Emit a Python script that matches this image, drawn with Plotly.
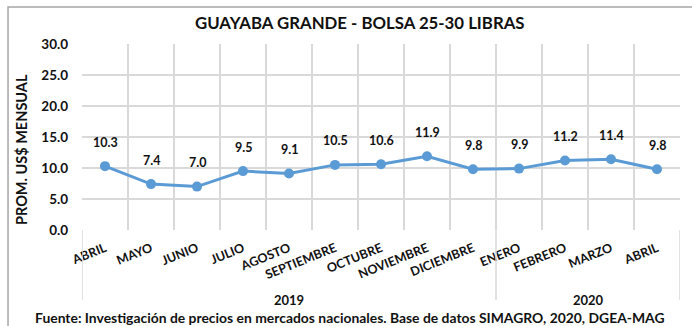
import plotly.graph_objects as go

# Monthly average price, US$ per 25-30 lb bag
months = ["ABRIL", "MAYO", "JUNIO", "JULIO", "AGOSTO", "SEPTIEMBRE", "OCTUBRE",
          "NOVIEMBRE", "DICIEMBRE", "ENERO", "FEBRERO", "MARZO", "ABRIL"]
years = ["2019"] * 9 + ["2020"] * 4
prices = [10.3, 7.4, 7.0, 9.5, 9.1, 10.5, 10.6, 11.9, 9.8, 9.9, 11.2, 11.4, 9.8]
y_ticks = [0, 5, 10, 15, 20, 25, 30]

BLUE = "#5B9BD5"
GRID = "#D9D9D9"
FONT = "Lato"

idx = list(range(len(months)))

fig = go.Figure()
fig.add_trace(go.Scatter(
    x=idx, y=prices, mode="lines+markers",
    line=dict(color=BLUE, width=3),
    marker=dict(color=BLUE, size=10),
    hoverinfo="skip", showlegend=False,
))

# value labels above each point
for i, v in zip(idx, prices):
    fig.add_annotation(x=i, y=v, text=f"<b>{v:.1f}</b>", showarrow=False,
                       yshift=24, font=dict(family=FONT, size=12.5, color="#111"))

# year groups under the month labels
groups = []
for i, yr in enumerate(years):
    if not groups or groups[-1][0] != yr:
        groups.append([yr, i, i])
    else:
        groups[-1][2] = i
edges = [-0.5] + [g[2] + 0.5 for g in groups]
for e in edges:
    fig.add_shape(type="line", xref="x", yref="paper", x0=e, x1=e, y0=0, y1=-0.376,
                  line=dict(color=GRID, width=1.5))
for yr, a, b in groups:
    fig.add_annotation(xref="x", yref="paper", x=(a + b) / 2, y=-0.378, yanchor="middle",
                       text=f"<b>{yr}</b>", showarrow=False, borderpad=0,
                       font=dict(family=FONT, size=13, color="#111"))

# outer chart frame
fig.add_shape(type="rect", xref="paper", yref="paper", x0=-0.1237, x1=1.2,
              y0=-0.6, y1=1.199, line=dict(color="#A6A6A6", width=1.5))

fig.add_annotation(xref="paper", yref="paper", x=0.465, y=1.118, yanchor="middle",
                   text="<b>GUAYABA GRANDE - BOLSA 25-30 LIBRAS</b>", showarrow=False,
                   font=dict(family=FONT, size=16.8, color="#111"))
fig.add_annotation(xref="paper", yref="paper", x=-0.102, y=0.43, textangle=-90,
                   xanchor="center", yanchor="middle",
                   text="<b>PROM. US$ MENSUAL</b>", showarrow=False,
                   font=dict(family=FONT, size=14.5, color="#111"))
fig.add_annotation(xref="paper", yref="paper", x=0.448, y=-0.473, yanchor="middle",
                   xanchor="center", borderpad=0,
                   text="<b>Fuente: Investigación de precios en mercados nacionales. "
                        "Base de datos SIMAGRO, 2020, DGEA-MAG</b>",
                   showarrow=False, font=dict(family=FONT, size=13.9, color="#111"))

fig.update_layout(
    width=692, height=326,
    margin=dict(l=82, r=12, t=44, b=96),
    paper_bgcolor="white", plot_bgcolor="white",
    font=dict(family=FONT, color="#111"),
)
fig.update_xaxes(
    range=[-0.5, 12.5], tickmode="array", tickvals=idx,
    ticktext=[f"<b>{m}</b>" for m in months], tickangle=-22,
    tickfont=dict(family=FONT, size=12.5, color="#111"),
    showgrid=False, zeroline=False, showline=False, ticks="",
    ticklabelstandoff=8,
    minor=dict(tick0=-0.5, dtick=1, showgrid=True, gridcolor=GRID, gridwidth=1.5),
)
fig.update_yaxes(
    range=[0, 30], tickmode="array", tickvals=y_ticks,
    ticktext=[f"<b>{t:.1f}</b>" for t in y_ticks],
    tickfont=dict(family=FONT, size=13.5, color="#111"),
    showgrid=True, gridcolor=GRID, gridwidth=1.5, zeroline=False,
    showline=False, ticks="", ticklabelstandoff=13,
)

fig.write_html("out.html")
